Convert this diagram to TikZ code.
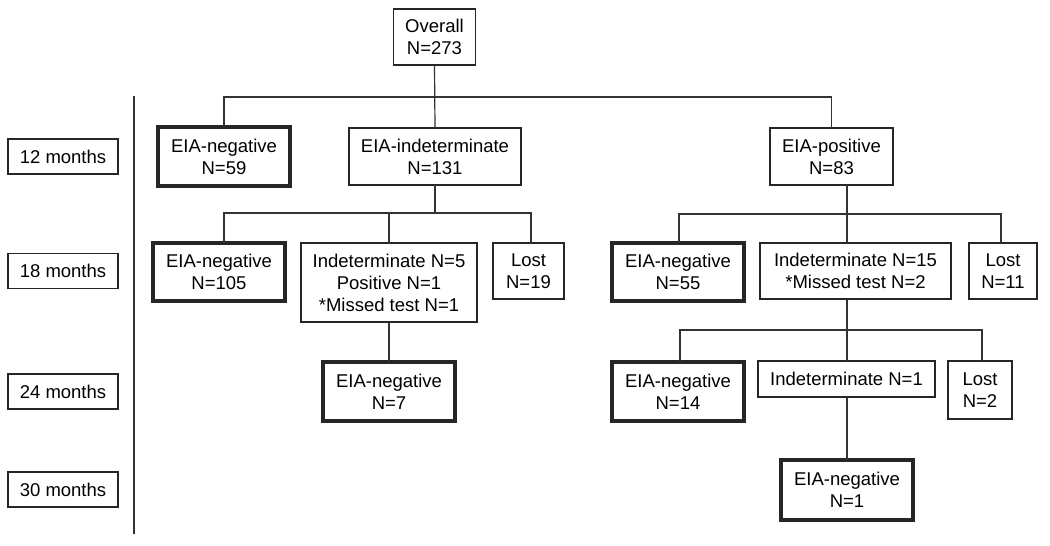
\documentclass[tikz,border=0pt]{standalone}
\usepackage{fontspec}
\setmainfont{Liberation Sans}
\begin{document}
\begin{tikzpicture}[x=1pt,y=-1pt,
  box/.style={draw=black!85, line width=1.2pt, align=center, inner sep=0pt, outer sep=0pt,
    font=\fontsize{18.5}{22}\selectfont, text=black},
  thickbox/.style={box, line width=3.4pt},
  conn/.style={draw=black!80, line width=1.2pt}]
\useasboundingbox (0,0) rectangle (1050,546);
% timeline labels
\node[box, minimum width=110, minimum height=35] (m12) at (63,156.5) {12 months};
\node[box, minimum width=110, minimum height=35] (m18) at (63,271) {18 months};
\node[box, minimum width=110, minimum height=35] (m24) at (63,391.5) {24 months};
\node[box, minimum width=110, minimum height=35] (m30) at (63,489.5) {30 months};
\coordinate (tlTop) at (134,96);
\coordinate (tlBot) at (134,534);
\draw[conn] (tlTop) -- (tlBot);
% level 0
\node[box, minimum width=82, minimum height=56] (ov) at (434.5,37) {Overall\\N=273};
% level 1
\node[thickbox, minimum width=132, minimum height=59] (neg59) at (224,156.5) {EIA-negative\\N=59};
\node[box, minimum width=172, minimum height=57] (ind131) at (435,156.5) {EIA-indeterminate\\N=131};
\node[box, minimum width=123, minimum height=57] (pos83) at (831.5,156.5) {EIA-positive\\N=83};
% level 2 left
\node[thickbox, minimum width=132, minimum height=58] (neg105) at (219,272) {EIA-negative\\N=105};
\node[box, minimum width=176, minimum height=79] (ind5) at (389,282.5) {Indeterminate N=5\\Positive N=1\\*Missed test N=1};
\node[box, minimum width=71, minimum height=56] (lost19) at (528.5,271) {Lost\\N=19};
% level 2 right
\node[thickbox, minimum width=132, minimum height=58] (neg55) at (678,272) {EIA-negative\\N=55};
\node[box, minimum width=191, minimum height=56] (ind15) at (855.5,271) {Indeterminate N=15\\*Missed test N=2};
\node[box, minimum width=68, minimum height=56] (lost11) at (1003,271) {Lost\\N=11};
% level 3
\node[thickbox, minimum width=132, minimum height=59] (neg7) at (389,391.5) {EIA-negative\\N=7};
\node[thickbox, minimum width=132, minimum height=59] (neg14) at (678,391.5) {EIA-negative\\N=14};
\node[box, minimum width=177, minimum height=36] (ind1) at (846.5,379) {Indeterminate N=1};
\node[box, minimum width=64, minimum height=58] (lost2) at (980,390) {Lost\\N=2};
% level 4
\node[thickbox, minimum width=132, minimum height=60] (neg1) at (847,490) {EIA-negative\\N=1};
% connectors level 0 -> 1
\coordinate (b1) at (0,97);
\draw[conn] (ov.south) -- (ind131.north);
\draw[conn] (neg59.north) |- (pos83.north |- b1) -- (pos83.north);
% level 1 -> 2 left
\coordinate (b2L) at (224,213);
\coordinate (b2R) at (531,213);
\draw[conn] (ind131.south) -- (ind131.south |- b2L);
\draw[conn] (b2L |- neg105.north) -- (b2L) -- (b2R) -- (b2R |- lost19.north);
\draw[conn] (ind5.north) -- (ind5.north |- b2L);
% level 1 -> 2 right
\coordinate (b3L) at (679,214);
\coordinate (b3M) at (847,214);
\coordinate (b3R) at (1001,214);
\draw[conn] (b3M |- pos83.south) -- (b3M |- ind15.north);
\draw[conn] (b3L |- neg55.north) -- (b3L) -- (b3R) -- (b3R |- lost11.north);
% level 2 -> 3
\draw[conn] (ind5.south) -- (neg7.north);
\coordinate (b4L) at (680,330);
\coordinate (b4M) at (847,330);
\coordinate (b4R) at (982,330);
\draw[conn] (b4M |- ind15.south) -- (b4M |- ind1.north);
\draw[conn] (b4L |- neg14.north) -- (b4L) -- (b4R) -- (b4R |- lost2.north);
% level 3 -> 4
\draw[conn] (b4M |- ind1.south) -- (b4M |- neg1.north);
\end{tikzpicture}
\end{document}
